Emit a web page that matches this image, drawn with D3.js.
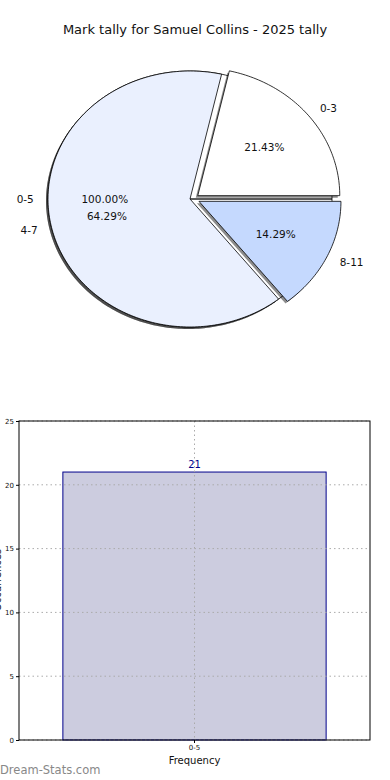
<!DOCTYPE html>
<meta charset="utf-8">
<style>
body { margin: 0; background: #fff; }
svg { font-family: "DejaVu Sans", sans-serif; }
</style>
<head>
<script src="https://d3js.org/d3.v7.min.js"></script>
</head>
<body>
<div id="chart"></div>
<script>
// pie data
var outerLabels = ["0-5"];
var outerValues = [21];
var pieLabels = ["0-3", "4-7", "8-11"];
var pieValues = [4.5, 13.5, 3];
var pieColors = ["#ffffff", "#eaf0fe", "#c5d9fe"];
var pieExplode = [0.07, 0, 0.07];

// bar data
var barCats = ["0-5"];
var barValues = [21];
var yTicks = [0, 5, 10, 15, 20, 25];

var W = 390, H = 780;
var svg = d3.select("#chart").append("svg").attr("width", W).attr("height", H);

svg.append("text").attr("x", 195).attr("y", 34).attr("text-anchor", "middle")
  .attr("font-size", 13).attr("fill", "#111").text("Mark tally for Samuel Collins - 2025 tally");

// ---- pie (elliptical, matplotlib style: starts at east, counter clockwise)
var cx = 190, cy = 199, rx = 142, ry = 128;

function pt(a, r) { return [cx + rx * r * Math.cos(a), cy - ry * r * Math.sin(a)]; }

function wedgePath(a0, a1, dx, dy) {
  var n = Math.max(2, Math.ceil((a1 - a0) / 0.02));
  var p = d3.path();
  p.moveTo(cx + dx, cy + dy);
  for (var i = 0; i <= n; i++) {
    var a = a0 + (a1 - a0) * i / n;
    var q = pt(a, 1);
    p.lineTo(q[0] + dx, q[1] + dy);
  }
  p.closePath();
  return p.toString();
}

var gPie = svg.append("g");
var gLab = svg.append("g");

function drawPie(labels, values, colors, explode) {
  var tot = d3.sum(values);
  var arcs = d3.pie().sort(null).startAngle(0).endAngle(2 * Math.PI)(values);
  var g = gPie.append("g");
  arcs.forEach(function(d, i) {
    var mid = (d.startAngle + d.endAngle) / 2;
    var e = explode[i] || 0;
    d.mid = mid;
    d.dx = rx * e * Math.cos(mid);
    d.dy = -ry * e * Math.sin(mid) * 0.6;
    // shadow
    g.append("path").attr("d", wedgePath(d.startAngle, d.endAngle, d.dx - 2, d.dy + 2))
      .attr("fill", "#000").attr("opacity", 0.45);
  });
  arcs.forEach(function(d, i) {
    g.append("path").attr("d", wedgePath(d.startAngle, d.endAngle, d.dx, d.dy))
      .attr("fill", colors[i % colors.length]).attr("stroke", "#000").attr("stroke-width", 0.8);
  });
  arcs.forEach(function(d, i) {
    var l = pt(d.mid, 1.1), c = pt(d.mid, 0.6);
    gLab.append("text").attr("x", l[0] + d.dx).attr("y", l[1] + d.dy).attr("dy", "0.35em")
      .attr("text-anchor", Math.cos(d.mid) > 0 ? "start" : "end")
      .attr("font-size", 10.5).attr("fill", "#111").text(labels[i]);
    gLab.append("text").attr("x", c[0] + d.dx).attr("y", c[1] + d.dy).attr("dy", "0.35em")
      .attr("text-anchor", "middle").attr("font-size", 10.5).attr("fill", "#111")
      .text((d.value / tot * 100).toFixed(2) + "%");
  });
}

drawPie(outerLabels, outerValues, ["#ffffff"], [0]);
drawPie(pieLabels, pieValues, pieColors, pieExplode);

// ---- bar chart
var m = { l: 19, r: 370, t: 421, b: 740 };
var x = d3.scaleBand().domain(barCats).range([m.l, m.r]).paddingInner(0.25).paddingOuter(0.125);
var y = d3.scaleLinear().domain([0, 25]).range([m.b, m.t]);

var grid = svg.append("g").attr("stroke", "#aaa").attr("stroke-dasharray", "1.5,3").attr("stroke-width", 1);
yTicks.forEach(function(t) {
  grid.append("line").attr("x1", m.l).attr("x2", m.r).attr("y1", y(t)).attr("y2", y(t));
});

svg.selectAll("rect.bar").data(barValues).enter().append("rect").attr("class", "bar")
  .attr("x", function(d, i) { return x(barCats[i]); })
  .attr("y", function(d) { return y(d); })
  .attr("width", x.bandwidth())
  .attr("height", function(d) { return y(0) - y(d); })
  .attr("fill", "#ccccdf").attr("stroke", "#00008b").attr("stroke-width", 1);

barCats.forEach(function(c) {
  var xc = x(c) + x.bandwidth() / 2;
  grid.append("line").attr("x1", xc).attr("x2", xc).attr("y1", m.t).attr("y2", m.b);
});
grid.raise();

svg.selectAll("text.val").data(barValues).enter().append("text").attr("class", "val")
  .attr("x", function(d, i) { return x(barCats[i]) + x.bandwidth() / 2; })
  .attr("y", function(d) { return y(d) - 4; })
  .attr("text-anchor", "middle").attr("font-size", 10).attr("fill", "#00008b")
  .text(function(d) { return d; });

var yAxis = svg.append("g").attr("transform", "translate(" + m.l + ",0)")
  .call(d3.axisLeft(y).tickValues(yTicks).tickSize(3).tickPadding(2));
yAxis.select(".domain").remove();
yAxis.selectAll("text").attr("font-size", 7).attr("font-family", "DejaVu Sans").attr("fill", "#111");

var xAxis = svg.append("g").attr("transform", "translate(0," + m.b + ")")
  .call(d3.axisBottom(x).tickSize(3).tickPadding(2));
xAxis.select(".domain").remove();
xAxis.selectAll("text").attr("font-size", 7).attr("font-family", "DejaVu Sans").attr("fill", "#111");

svg.append("rect").attr("x", m.l).attr("y", m.t).attr("width", m.r - m.l).attr("height", m.b - m.t)
  .attr("fill", "none").attr("stroke", "#000").attr("stroke-width", 1);

svg.append("text").attr("x", (m.l + m.r) / 2).attr("y", 764).attr("text-anchor", "middle")
  .attr("font-size", 10).attr("fill", "#111").text("Frequency");

svg.append("text").attr("transform", "translate(1,580) rotate(-90)").attr("text-anchor", "middle")
  .attr("font-size", 10).attr("fill", "#111").text("Occurrences");

svg.append("text").attr("x", 0).attr("y", 774).attr("font-size", 11.5)
  .attr("fill", "#888").text("Dream-Stats.com");
</script>
</body>
